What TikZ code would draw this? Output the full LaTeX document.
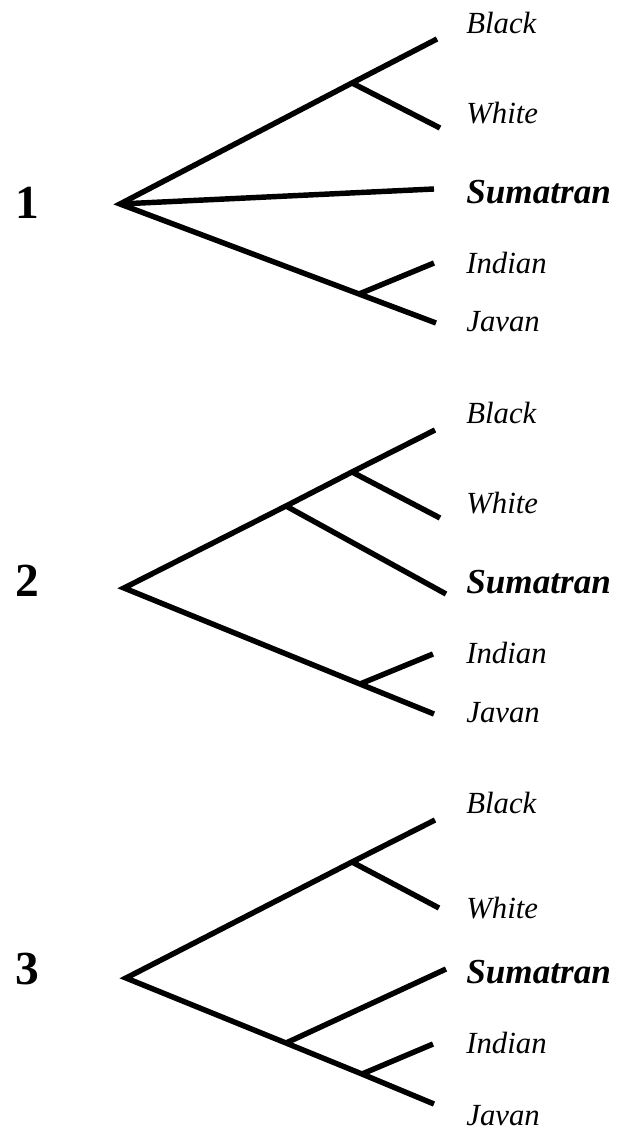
\documentclass[tikz,border=0pt]{standalone}
\usepackage{fontspec}
\setmainfont{Liberation Serif}
\usetikzlibrary{positioning, calc}

\begin{document}
\begin{tikzpicture}[
  x=0.02cm, y=-0.02cm,
  branch/.style={line width=3.1pt, black, line join=miter},
  taxon/.style={anchor=west, inner sep=0pt, font=\fontsize{17.5}{20}\selectfont\itshape},
  focal/.style={anchor=west, inner sep=0pt, font=\fontsize{20}{23}\selectfont\bfseries\itshape},
  treeno/.style={inner sep=0pt, font=\fontsize{27}{30}\selectfont\bfseries},
]

% Background / frame
\useasboundingbox (0,0) rectangle (627,1131);

% =============================================
% Tree 1
% =============================================
\node[treeno] (n1) at (27,203) {1};

\coordinate (r1)  at (120,204);
\coordinate (bw1) at (352,83);
\coordinate (ij1) at (359,294);
\coordinate (b1)  at (437,39);
\coordinate (w1)  at (440,128);
\coordinate (s1)  at (434,189);
\coordinate (i1)  at (434,263);
\coordinate (j1)  at (436,323);

\draw[branch] (b1) -- (bw1) -- (r1) -- (ij1) -- (j1);
\draw[branch] (bw1) -- (w1);
\draw[branch] (r1) -- (s1);
\draw[branch] (ij1) -- (i1);

\node[taxon] (lb1) at (466,23)  {Black};
\node[taxon] (lw1) at (466,113) {White};
\node[focal] (ls1) at (466,192) {Sumatran};
\node[taxon] (li1) at (466,263) {Indian};
\node[taxon] (lj1) at (466,322) {Javan};

% =============================================
% Tree 2
% =============================================
\node[treeno] (n2) at (27,581) {2};

\coordinate (r2)  at (124,588);
\coordinate (bs2) at (286,506);
\coordinate (bw2) at (352,472);
\coordinate (ij2) at (360,684);
\coordinate (b2)  at (435,430);
\coordinate (w2)  at (440,518);
\coordinate (s2)  at (446,594);
\coordinate (i2)  at (433,654);
\coordinate (j2)  at (434,714);

\draw[branch] (b2) -- (bw2) -- (bs2) -- (r2) -- (ij2) -- (j2);
\draw[branch] (bw2) -- (w2);
\draw[branch] (bs2) -- (s2);
\draw[branch] (ij2) -- (i2);

\node[taxon] (lb2) at (466,413) {Black};
\node[taxon] (lw2) at (466,503) {White};
\node[focal] (ls2) at (466,582) {Sumatran};
\node[taxon] (li2) at (466,653) {Indian};
\node[taxon] (lj2) at (466,713) {Javan};

% =============================================
% Tree 3
% =============================================
\node[treeno] (n3) at (27,969) {3};

\coordinate (r3)  at (126,978);
\coordinate (bw3) at (352,862);
\coordinate (si3) at (286,1043);
\coordinate (ij3) at (362,1074);
\coordinate (b3)  at (435,820);
\coordinate (w3)  at (439,908);
\coordinate (s3)  at (446,969);
\coordinate (i3)  at (433,1044);
\coordinate (j3)  at (434,1104);

\draw[branch] (b3) -- (bw3) -- (r3) -- (si3) -- (ij3) -- (j3);
\draw[branch] (bw3) -- (w3);
\draw[branch] (si3) -- (s3);
\draw[branch] (ij3) -- (i3);

\node[taxon] (lb3) at (466,803)  {Black};
\node[taxon] (lw3) at (466,908)  {White};
\node[focal] (ls3) at (466,972)  {Sumatran};
\node[taxon] (li3) at (466,1043) {Indian};
\node[taxon] (lj3) at (466,1116) {Javan};

\end{tikzpicture}
\end{document}
